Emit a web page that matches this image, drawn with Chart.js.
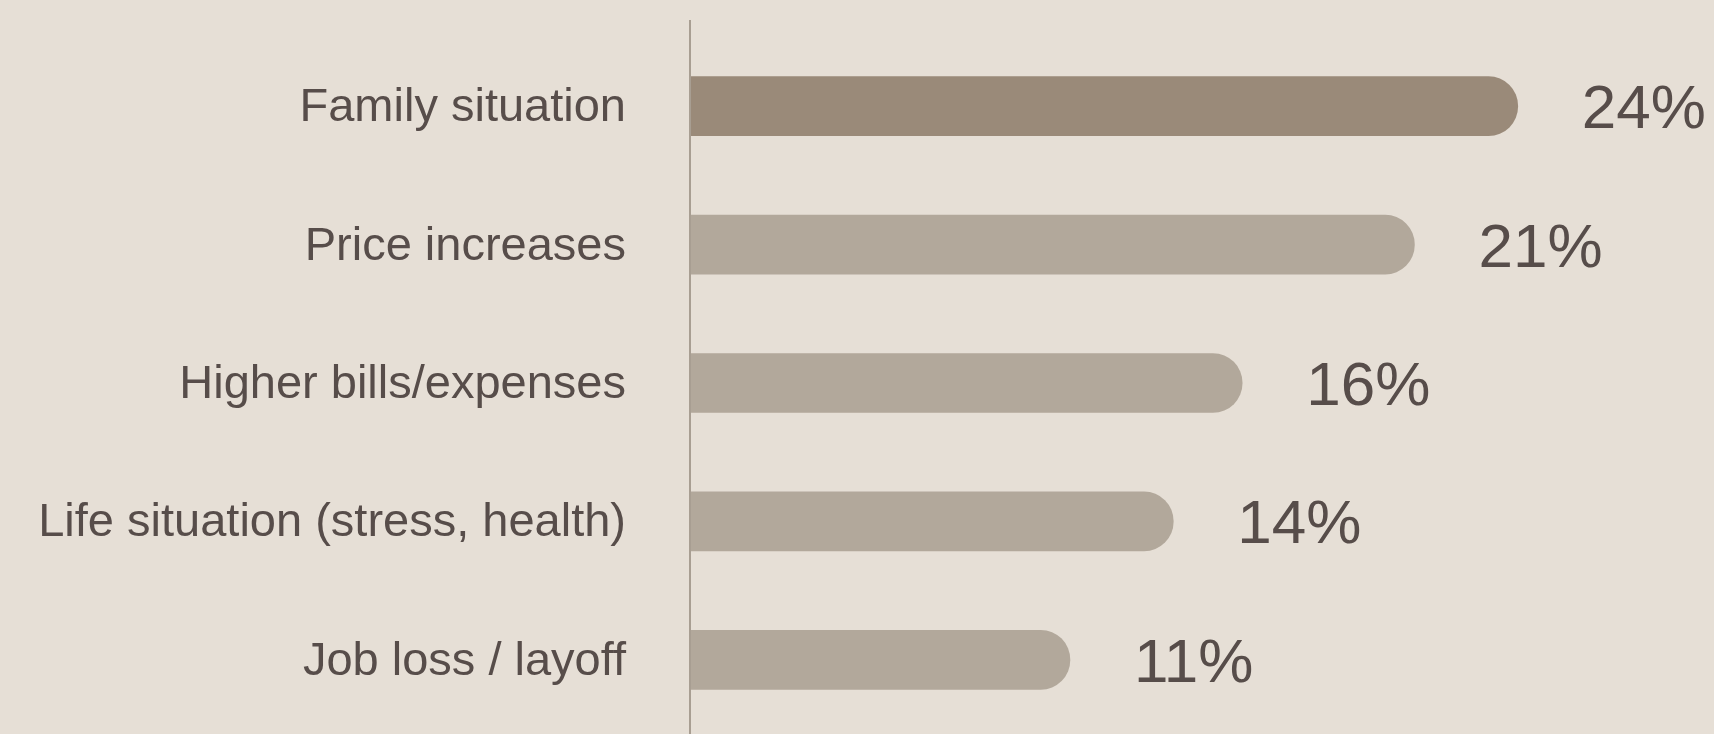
<!DOCTYPE html>
<html>
<head>
<meta charset="utf-8">
<script src="https://cdn.jsdelivr.net/npm/chart.js@4/dist/chart.umd.min.js"></script>
<style>
  html, body { margin: 0; padding: 0; background: #E6DFD6; }
  #wrap { width: 1714px; height: 734px; position: relative; }
</style>
</head>
<body>
<div id="wrap"><canvas id="chart"></canvas></div>
<script>
// Reasons cited, share of respondents (%)
const categories = [
  'Family situation',
  'Price increases',
  'Higher bills/expenses',
  'Life situation (stress, health)',
  'Job loss / layoff'
];
const shares = [24, 21, 16, 14, 11];
const valueLabels = ['24%', '21%', '16%', '14%', '11%'];

const TEXT = '#574D4A';
const FONT = '"Liberation Sans", Arial, sans-serif';

// Vertical baseline drawn at zero, running past the plot area
const zeroLine = {
  id: 'zeroLine',
  afterDatasetsDraw(chart) {
    const { ctx } = chart;
    const x = chart.scales.x.getPixelForValue(0);
    ctx.save();
    ctx.strokeStyle = '#A89E92';
    ctx.lineWidth = 2;
    ctx.beginPath();
    ctx.moveTo(x - 1, 20);
    ctx.lineTo(x - 1, chart.height);
    ctx.stroke();
    ctx.restore();
  }
};

// Percentage label to the right of each bar
const barValues = {
  id: 'barValues',
  afterDatasetsDraw(chart) {
    const { ctx } = chart;
    const meta = chart.getDatasetMeta(0);
    ctx.save();
    ctx.fillStyle = TEXT;
    ctx.font = '62px ' + FONT;
    ctx.textAlign = 'left';
    ctx.textBaseline = 'alphabetic';
    meta.data.forEach((bar, i) => {
      ctx.fillText(valueLabels[i], bar.x + 64, bar.y + 22);
    });
    ctx.restore();
  }
};

new Chart(document.getElementById('chart'), {
  type: 'bar',
  data: {
    labels: categories,
    datasets: [{
      data: shares,
      backgroundColor: shares.map((v, i) => i === 0 ? '#9A8A79' : '#B2A89B'),
      borderRadius: 30,
      borderSkipped: 'start',
      barThickness: 59
    }]
  },
  options: {
    indexAxis: 'y',
    responsive: true,
    maintainAspectRatio: false,
    animation: false,
    layout: { padding: { top: 37, bottom: 5, left: 0, right: 24 } },
    plugins: {
      legend: { display: false },
      tooltip: { enabled: false }
    },
    scales: {
      x: {
        display: false,
        min: 0,
        max: 29
      },
      y: {
        afterFit(scale) {
          // fixed label column; no extra vertical room for the labels
          scale.width = 691;
          scale.paddingTop = 0;
          scale.paddingBottom = 0;
        },
        border: { display: false },
        grid: { display: false, drawTicks: false },
        ticks: {
          padding: 65,
          labelOffset: 2,
          color: TEXT,
          font: { family: FONT, size: 47 }
        }
      }
    }
  },
  plugins: [zeroLine, barValues]
});
</script>
</body>
</html>
